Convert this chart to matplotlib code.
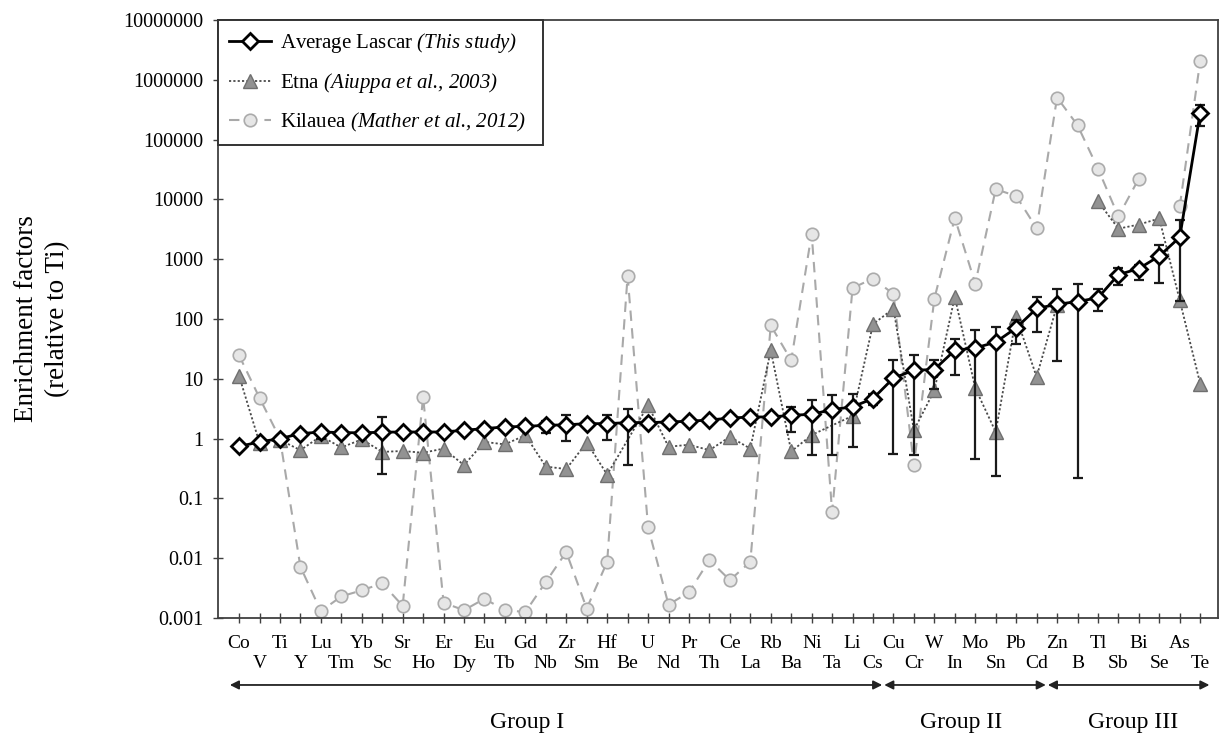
import numpy as np
import matplotlib
matplotlib.use("Agg")
import matplotlib.pyplot as plt
from matplotlib.ticker import FixedLocator, FuncFormatter, NullLocator
from matplotlib.patches import Rectangle
import matplotlib.transforms as mtransforms

plt.rcParams['font.family'] = ['Liberation Serif', 'DejaVu Serif']
plt.rcParams['mathtext.fontset'] = 'custom'
plt.rcParams['mathtext.rm'] = 'Liberation Serif:italic'
plt.rcParams['mathtext.it'] = 'Liberation Serif:italic'

# ---------------- data ----------------
elements = ["Co", "V", "Ti", "Y", "Lu", "Tm", "Yb", "Sc", "Sr", "Ho", "Er", "Dy",
            "Eu", "Tb", "Gd", "Nb", "Zr", "Sm", "Hf", "Be", "U", "Nd", "Pr", "Th",
            "Ce", "La", "Rb", "Ba", "Ni", "Ta", "Li", "Cs", "Cu", "Cr", "W", "In",
            "Mo", "Sn", "Pb", "Cd", "Zn", "B", "Tl", "Sb", "Bi", "Se", "As", "Te"]

lascar = [0.74, 0.88, 1.0, 1.21, 1.29, 1.26, 1.25, 1.28, 1.29, 1.29, 1.29, 1.38,
          1.47, 1.57, 1.6, 1.67, 1.7, 1.78, 1.78, 1.85, 1.85, 1.9, 1.95, 2.05,
          2.2, 2.3, 2.3, 2.45, 2.55, 3.05, 3.4, 4.67, 10.3, 13.9, 14.3, 30,
          32.8, 41, 71, 150, 176, 196, 226, 552, 697, 1130, 2330, 282000]
lascar_low = [0.74, 0.88, 1.0, 1.1, 0.97, 1.26, 1.25, 0.26, 1.29, 1.29, 1.29, 1.38,
              1.47, 1.57, 1.6, 1.25, 0.9, 1.78, 0.94, 0.36, 1.85, 1.9, 1.95, 2.05,
              2.2, 2.3, 2.3, 1.3, 0.53, 0.53, 0.73, 3.7, 0.56, 0.53, 6.8, 11.4,
              0.45, 0.235, 38.7, 61, 20, 0.22, 134, 375, 443, 400, 200, 167000]
lascar_high = [0.74, 0.88, 1.0, 1.35, 1.29, 1.26, 1.25, 2.3, 1.29, 1.29, 1.29, 1.38,
               1.47, 1.57, 1.6, 2.0, 2.45, 1.78, 2.45, 3.17, 1.85, 1.9, 1.95, 2.05,
               2.2, 2.3, 2.3, 3.4, 4.4, 5.3, 5.65, 5.5, 20.3, 25, 20.3, 47,
               65, 73, 95, 237, 313, 392, 313, 700, 800, 1700, 4500, 385000]

etna = [11.2, 0.85, 0.95, 0.64, 1.1, 0.71, 0.97, 0.6, 0.62, 0.58, 0.68, 0.36,
        0.88, 0.8, 1.14, 0.34, 0.31, 0.86, 0.25, None, 3.6, 0.73, 0.79, 0.64,
        1.07, 0.68, 30, 0.61, 1.15, None, 2.4, 82, 149, 1.38, 6.4, 235,
        7.0, 1.29, 108, 10.8, 170, None, 9300, 3240, 3800, 4800, 205, 8.3]

kilauea = [24.7, 4.8, 1.0, 0.0072, 0.0013, 0.0023, 0.0029, 0.0038, 0.0016, 5.0, 0.0018, 0.00135,
           0.0021, 0.00135, 0.00126, 0.004, 0.0127, 0.00144, 0.0087, 525, 0.033, 0.00167, 0.0027, 0.0093,
           0.0043, 0.0087, 78, 20.4, 2680, 0.059, 330, 475, 262, 0.36, 219, 4900,
           390, 14800, 11400, 3300, 505000, 174000, 32700, 5200, 22300, None, 7700, 2070000]

series_names = ["Average Lascar", "Etna", "Kilauea"]
series_refs = ["(This study)", "(Aiuppa et al., 2003)", "(Mather et al., 2012)"]

groups = ["Group I", "Group II", "Group III"]
group_first = ["Co", "Cu", "Zn"]
group_last = ["Cs", "Cd", "Te"]

ytick_values = [0.001, 0.01, 0.1, 1, 10, 100, 1000, 10000, 100000, 1000000, 10000000]

# ---------------- layout ----------------
W, H = 1219, 735
fig = plt.figure(figsize=(W / 100, H / 100), dpi=100)
ax = fig.add_axes([218 / W, (H - 618) / H, 1000 / W, 598 / H])

labels = [f"{n} $\\text{{{r}}}$" for n, r in zip(series_names, series_refs)]

x = np.arange(len(elements))
lascar_a = np.array(lascar, float)
low_a = np.array(lascar_low, float)
high_a = np.array(lascar_high, float)
etna_a = np.array([np.nan if v is None else v for v in etna], float)
kil_a = np.array([np.nan if v is None else v for v in kilauea], float)

# Kilauea (gaps break the line)
h_kil, = ax.plot(x, kil_a, linestyle=(0, (5, 3.5)), color='#a9a9a9', lw=1.5,
                 marker='o', ms=9, mfc='#e6e6e6', mec='#ababab', mew=1.2, zorder=2)

# Etna: line connects over missing values within a segment; B splits segments
break_idx = elements.index("B")
h_etna = None
for seg in (np.arange(0, break_idx), np.arange(break_idx + 1, len(elements))):
    m = ~np.isnan(etna_a[seg])
    h, = ax.plot(x[seg][m], etna_a[seg][m], linestyle=(0, (1.2, 1.2)), color='#4a4a4a', lw=1.3,
                 marker='^', ms=9.5, mfc='#929292', mec='#6f6f6f', mew=1.0, zorder=3)
    if h_etna is None:
        h_etna = h

# Lascar error bars and line
ax.errorbar(x, lascar_a, yerr=[lascar_a - low_a, high_a - lascar_a], fmt='none',
            ecolor='#1a1a1a', elinewidth=1.6, capsize=3.5, capthick=1.6, zorder=4)
h_las, = ax.plot(x, lascar_a, '-', color='black', lw=2.0, marker='D', ms=8.5,
                 mfc='white', mec='black', mew=2.0, zorder=5)

ax.set_yscale('log')
ax.set_ylim(0.001, 1e7)
ax.set_xlim(-1.03, 47.87)
ax.yaxis.set_major_locator(FixedLocator(ytick_values))
ax.yaxis.set_minor_locator(NullLocator())
ax.yaxis.set_major_formatter(FuncFormatter(lambda v, p: f"{int(round(v))}" if v >= 1 else f"{v:g}"))

ax.set_xticks(x[::2])
ax.set_xticklabels(elements[::2])
ax.set_xticks(x[1::2], minor=True)
ax.set_xticklabels(elements[1::2], minor=True)
ax.tick_params(axis='x', which='both', direction='inout', length=7, width=1.0,
               color='#404040', labelsize=14)
ax.tick_params(axis='x', which='major', pad=9)
ax.tick_params(axis='x', which='minor', pad=23)
ax.tick_params(axis='y', which='major', direction='inout', length=7, width=1.0,
               color='#404040', labelsize=14.5, pad=7)
for s in ax.spines.values():
    s.set_color('#404040')
    s.set_linewidth(1.3)

fig.text(42 / W, 1 - 319 / H, "Enrichment factors\n(relative to Ti)", rotation=90,
         ha='center', va='center', multialignment='center', fontsize=19.5, linespacing=1.35)

# legend (frame drawn separately so it can be as wide as in the reference)
leg = ax.legend([h_las, h_etna, h_kil], labels,
                loc='upper left', bbox_to_anchor=(0, 1), borderaxespad=0,
                fontsize=15, frameon=False, handlelength=2.0,
                handletextpad=0.45, labelspacing=0.75, borderpad=0.55)
leg.set_zorder(7)
fig.canvas.draw()
lb = leg.get_window_extent().transformed(ax.transAxes.inverted())
frame = Rectangle((0, lb.y0), 0.325, 1 - lb.y0, transform=ax.transAxes,
                  facecolor='white', edgecolor='#333333', lw=1.4, zorder=6, clip_on=False)
ax.add_patch(frame)

# group arrows
trans = mtransforms.blended_transform_factory(ax.transData, ax.transAxes)
group_label_x = [14.1, 35.3, 43.7]
for g, a, b, gx in zip(groups, group_first, group_last, group_label_x):
    i0, i1 = elements.index(a), elements.index(b)
    ax.annotate("", xy=(i1 + 0.45, -0.112), xytext=(i0 - 0.45, -0.112),
                xycoords=trans, textcoords=trans, annotation_clip=False,
                arrowprops=dict(arrowstyle='<|-|>', color='#222222', lw=1.3,
                                mutation_scale=13, shrinkA=0, shrinkB=0))
    ax.text(gx, -0.174, g, transform=trans, ha='center', va='center', fontsize=17)

fig.savefig("out.png", dpi=100)
